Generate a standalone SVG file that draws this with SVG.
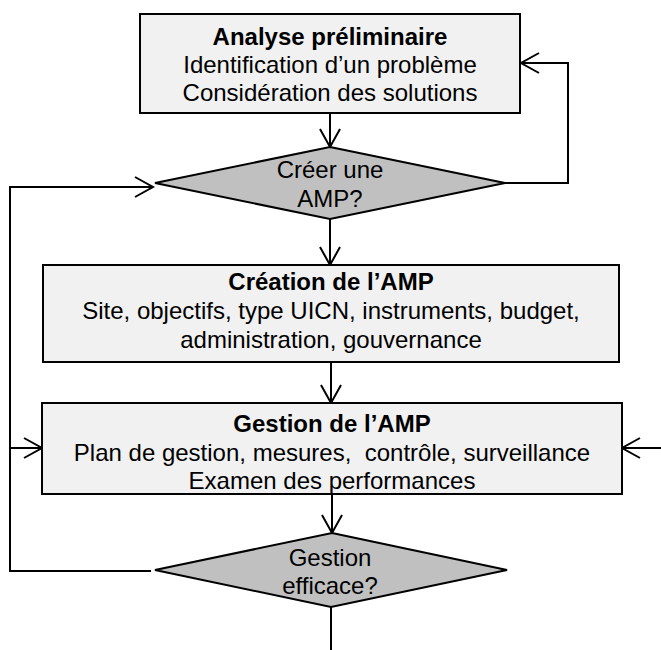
<svg xmlns="http://www.w3.org/2000/svg" width="661" height="650" viewBox="0 0 661 650">
  <defs>
    <!-- open V arrowhead drawn with two strokes -->
    <marker id="arrow" markerUnits="userSpaceOnUse" markerWidth="20" markerHeight="22" refX="18" refY="10" orient="auto" overflow="visible">
      <path d="M0,0 L18,10 L0,20" fill="none" stroke="#000" stroke-width="2"/>
    </marker>
    <style>
      .box { fill: #f1f1f1; stroke: #000; stroke-width: 2; }
      .dec { fill: #c0c0c0; stroke: #000; stroke-width: 2; }
      .conn { fill: none; stroke: #000; stroke-width: 2; }
      text { font-family: "Liberation Sans", Arial, sans-serif; font-size: 24px; fill: #000; text-anchor: middle; }
      .title { font-weight: bold; }
    </style>
  </defs>

  <g id="connectors">
    <line class="conn" x1="330" y1="113" x2="330" y2="147" marker-end="url(#arrow)"/>
    <polyline class="conn" points="505,183 568,183 568,63 521,63" marker-end="url(#arrow)"/>
    <line class="conn" x1="330" y1="219" x2="330" y2="265" marker-end="url(#arrow)"/>
    <line class="conn" x1="331" y1="362" x2="331" y2="403" marker-end="url(#arrow)"/>
    <line class="conn" x1="332" y1="494" x2="332" y2="533" marker-end="url(#arrow)"/>
    <polyline class="conn" points="151,571 10,571 10,187 153,187" marker-end="url(#arrow)"/>
    <line class="conn" x1="10" y1="448" x2="42" y2="448" marker-end="url(#arrow)"/>
    <line class="conn" x1="661" y1="448" x2="622" y2="448" marker-end="url(#arrow)"/>
    <line class="conn" x1="331" y1="607" x2="331" y2="650"/>
  </g>

  <g id="analyse">
    <rect class="box" x="140" y="14" width="380" height="99"/>
    <text class="title" x="330" y="45">Analyse préliminaire</text>
    <text x="330" y="73">Identification d’un problème</text>
    <text x="330" y="101">Considération des solutions</text>
  </g>

  <g id="creer">
    <polygon class="dec" points="330,147 505,183 330,219 155,183"/>
    <text x="330" y="178">Créer une</text>
    <text x="330" y="207">AMP?</text>
  </g>

  <g id="creation">
    <rect class="box" x="43" y="265" width="576" height="97"/>
    <text class="title" x="331" y="290">Création de l’AMP</text>
    <text x="331" y="319">Site, objectifs, type UICN, instruments, budget,</text>
    <text x="331" y="348">administration, gouvernance</text>
  </g>

  <g id="gestion">
    <rect class="box" x="42" y="403" width="580" height="91"/>
    <text class="title" x="332" y="432">Gestion de l’AMP</text>
    <text x="332" y="461" xml:space="preserve">Plan de gestion, mesures,  contrôle, surveillance</text>
    <text x="332" y="489">Examen des performances</text>
  </g>

  <g id="efficace">
    <polygon class="dec" points="332,533 507,570 331,607 155,570"/>
    <text x="330" y="566">Gestion</text>
    <text x="330" y="594">efficace?</text>
  </g>
</svg>
